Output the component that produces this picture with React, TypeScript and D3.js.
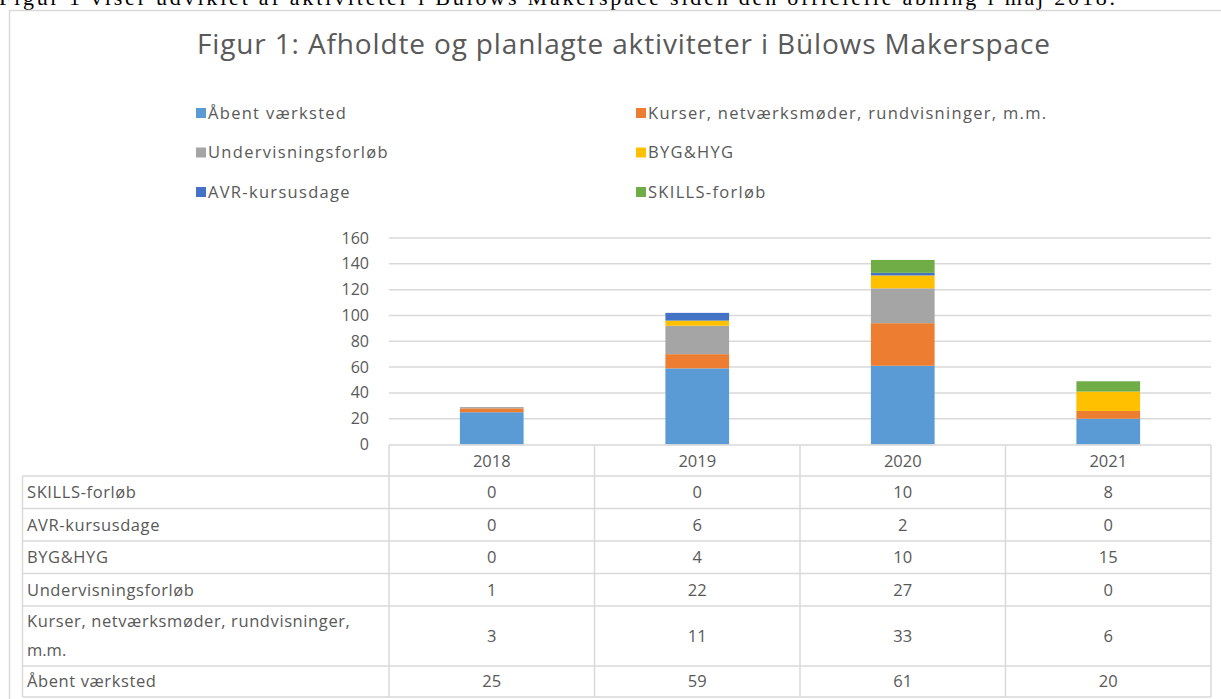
import React, { useEffect, useRef } from 'react';
import * as d3 from 'd3';

const years = ['2018', '2019', '2020', '2021'];
const aabentVaerksted = [25, 59, 61, 20];
const kurser = [3, 11, 33, 6];
const undervisning = [1, 22, 27, 0];
const bygHyg = [0, 4, 10, 15];
const avrKursusdage = [0, 6, 2, 0];
const skills = [0, 0, 10, 8];
const yTicks = [0, 20, 40, 60, 80, 100, 120, 140, 160];

const seriesNames = [
  'Åbent værksted',
  'Kurser, netværksmøder, rundvisninger, m.m.',
  'Undervisningsforløb',
  'BYG&HYG',
  'AVR-kursusdage',
  'SKILLS-forløb',
];
const seriesValues = [aabentVaerksted, kurser, undervisning, bygHyg, avrKursusdage, skills];
const colors = ['#5b9bd5', '#ed7d31', '#a5a5a5', '#ffc000', '#4472c4', '#70ad47'];

const FONT = '"Open Sans", sans-serif';
const TXT = '#595959';
const LINE = '#d9d9d9';

const App = () => {
  const svgRef = useRef<SVGSVGElement>(null);

  useEffect(() => {
    const width = 1221;
    const height = 699;
    const svg = d3.select(svgRef.current).attr('width', width).attr('height', height);
    svg.selectAll('*').remove();

    // caption line, cut off at the top of the page
    svg.append('text')
      .attr('x', -1)
      .attr('y', 5)
      .attr('font-family', '"Liberation Serif", serif')
      .attr('font-size', 22)
      .attr('textLength', 1116)
      .attr('fill', '#000')
      .text('Figur 1 viser udviklet af aktiviteter i Bülows Makerspace siden den officielle åbning i maj 2018.');

    // chart frame
    svg.append('path')
      .attr('d', `M9.5,${height} V10.5 H${width}`)
      .attr('fill', 'none')
      .attr('stroke', LINE)
      .attr('stroke-width', 1.5);

    svg.append('text')
      .attr('x', 197)
      .attr('y', 54)
      .attr('font-family', FONT)
      .attr('font-size', 28)
      .attr('textLength', 853)
      .attr('fill', TXT)
      .text('Figur 1: Afholdte og planlagte aktiviteter i Bülows Makerspace');

    // legend
    const legend = svg.append('g');
    seriesNames.forEach((name, i) => {
      const col = i % 2;
      const row = Math.floor(i / 2);
      const lx = col === 0 ? 196 : 636;
      const ly = 113 + row * 39.5;
      legend.append('rect')
        .attr('x', lx).attr('y', ly - 5).attr('width', 10).attr('height', 10)
        .attr('fill', colors[i]);
      legend.append('text')
        .attr('x', lx + 12).attr('y', ly)
        .attr('dy', '0.35em')
        .attr('font-family', FONT).attr('font-size', 16.5).attr('fill', TXT)
        .attr('letter-spacing', 1.3)
        .text(name);
    });

    const x = d3.scaleBand().domain(years).range([389, 1211]).padding(0);
    const y = d3.scaleLinear().domain([0, 160]).range([444.5, 238]);
    const barW = x.bandwidth() * 0.31;

    // gridlines
    svg.append('g')
      .selectAll('line')
      .data(yTicks.slice(1))
      .enter()
      .append('line')
      .attr('x1', 389).attr('x2', 1211)
      .attr('y1', d => y(d)).attr('y2', d => y(d))
      .attr('stroke', LINE).attr('stroke-width', 1.5);

    svg.append('g')
      .selectAll('text')
      .data(yTicks)
      .enter()
      .append('text')
      .attr('x', 369).attr('y', d => y(d))
      .attr('dy', '0.35em')
      .attr('text-anchor', 'end')
      .attr('font-family', FONT).attr('font-size', 16).attr('fill', TXT)
      .text(d => d);

    // stacked bars
    const table = years.map((yr, j) => {
      const row: Record<string, any> = { year: yr };
      seriesNames.forEach((n, i) => { row[n] = seriesValues[i][j]; });
      return row;
    });
    const stacked = d3.stack().keys(seriesNames)(table as any);
    svg.append('g')
      .selectAll('g')
      .data(stacked)
      .enter()
      .append('g')
      .attr('fill', (d, i) => colors[i])
      .selectAll('rect')
      .data(d => d)
      .enter()
      .append('rect')
      .attr('x', d => (x(d.data.year as any) as number) + (x.bandwidth() - barW) / 2)
      .attr('y', d => y(d[1]))
      .attr('width', barW)
      .attr('height', d => y(d[0]) - y(d[1]));

    // data table
    const tableRows = [5, 4, 3, 2, 1, 0];
    const rowH = [32.5, 32.5, 32.5, 32.5, 60, 31];
    const headerTop = 445;
    const headerBottom = 476;
    const bottom = headerBottom + d3.sum(rowH);
    const left = 22.5;
    const t = svg.append('g')
      .attr('font-family', FONT).attr('font-size', 16.5).attr('fill', TXT);
    const lines = t.append('g').attr('stroke', LINE).attr('stroke-width', 1.5);

    lines.append('line').attr('x1', 389).attr('x2', 1211).attr('y1', headerTop).attr('y2', headerTop);
    years.forEach(yr => {
      lines.append('line')
        .attr('x1', x(yr) as number).attr('x2', x(yr) as number)
        .attr('y1', headerTop).attr('y2', bottom);
    });
    lines.append('line').attr('x1', 1211).attr('x2', 1211).attr('y1', headerTop).attr('y2', bottom);
    lines.append('line').attr('x1', left).attr('x2', left).attr('y1', headerBottom).attr('y2', bottom);

    years.forEach(yr => {
      t.append('text')
        .attr('x', (x(yr) as number) + x.bandwidth() / 2)
        .attr('y', (headerTop + headerBottom) / 2 + 1)
        .attr('dy', '0.35em').attr('text-anchor', 'middle')
        .text(yr);
    });

    let top = headerBottom;
    tableRows.forEach((si, r) => {
      lines.append('line').attr('x1', left).attr('x2', 1211).attr('y1', top).attr('y2', top);
      const mid = top + rowH[r] / 2;
      const name = seriesNames[si];
      if (si === 1) {
        t.append('text').attr('x', 27).attr('y', top + 15).attr('dy', '0.35em')
          .attr('letter-spacing', 0.6)
          .text('Kurser, netværksmøder, rundvisninger,');
        t.append('text').attr('x', 27).attr('y', top + 44).attr('dy', '0.35em').text('m.m.');
      } else {
        t.append('text').attr('x', 27).attr('y', mid).attr('dy', '0.35em')
          .attr('letter-spacing', 0.6)
          .text(name);
      }
      years.forEach((yr, j) => {
        t.append('text')
          .attr('x', (x(yr) as number) + x.bandwidth() / 2)
          .attr('y', mid)
          .attr('dy', '0.35em').attr('text-anchor', 'middle')
          .text(seriesValues[si][j]);
      });
      top += rowH[r];
    });
    lines.append('line').attr('x1', left).attr('x2', 1211).attr('y1', bottom).attr('y2', bottom);
  }, []);

  return (
    <svg ref={svgRef} style={{ position: 'absolute', left: 0, top: 0, background: '#fff' }}></svg>
  );
};

export default App;
